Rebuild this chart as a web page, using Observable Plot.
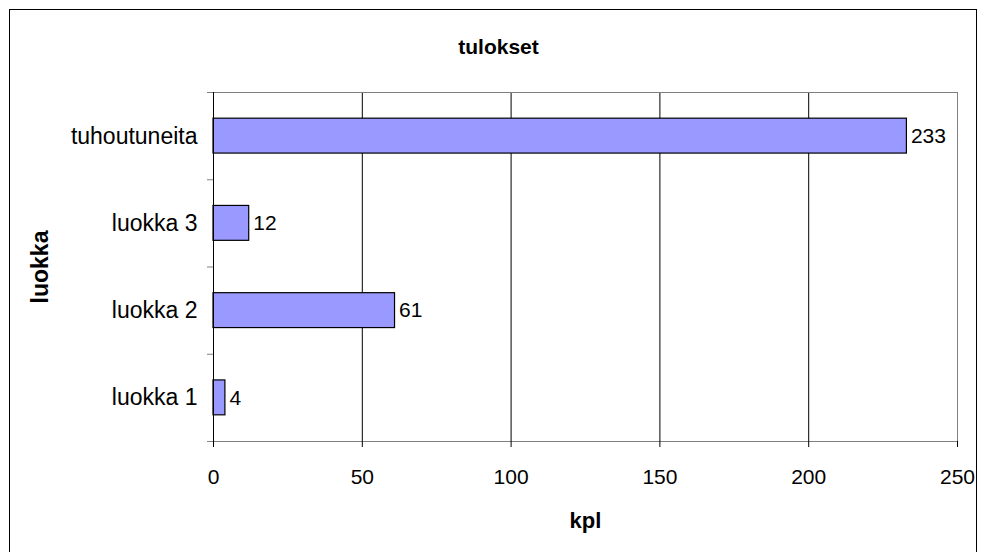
<!DOCTYPE html>
<html>
<head>
<meta charset="utf-8">
<script src="https://cdn.jsdelivr.net/npm/d3@7"></script>
<script src="https://cdn.jsdelivr.net/npm/@observablehq/plot@0.6"></script>
<style>
  html, body { margin: 0; padding: 0; background: #fff; }
  #wrap { position: relative; width: 987px; height: 552px; overflow: hidden; }
  #frame { position: absolute; left: 9px; top: 9px; width: 968px; height: 700px; border: 1px solid #000; box-sizing: border-box; pointer-events: none; }
  #chart { position: absolute; left: 0; top: 0; }
</style>
</head>
<body>
<div id="wrap"><div id="chart"></div><div id="frame"></div></div>
<script>
const categories = ["luokka 1", "luokka 2", "luokka 3", "tuhoutuneita"];
const values = [4, 61, 12, 233];
const xTicks = [0, 50, 100, 150, 200, 250];
const title = "tulokset";
const xLabel = "kpl";
const yLabel = "luokka";

const data = categories.map((c, i) => ({category: c, value: values[i], idx: i}));
const boundaries = d3.range(categories.length + 1);
const centers = categories.map((c, i) => i + 0.5);
const font = "'Liberation Sans', Arial, sans-serif";
const xMax = xTicks[xTicks.length - 1];

const chart = Plot.plot({
  width: 987,
  height: 552,
  marginLeft: 213,
  marginRight: 30,
  marginTop: 92,
  marginBottom: 111,
  style: {fontFamily: font, fontSize: "21px", color: "#000", background: "transparent"},
  x: {domain: [0, xMax], axis: null},
  y: {domain: [0, categories.length], axis: null},
  marks: [
    Plot.ruleX(xTicks.slice(1, -1), {stroke: "#000", strokeWidth: 1}),
    Plot.ruleY([categories.length], {stroke: "#808080", strokeWidth: 1}),
    Plot.ruleX([xMax], {stroke: "#808080", strokeWidth: 1}),
    Plot.rectX(data, {
      x1: 0, x2: "value",
      y1: d => d.idx + 0.3, y2: d => d.idx + 0.7,
      fill: "#9999FF", stroke: "#000", strokeWidth: 1.2
    }),
    Plot.text(data, {
      x: "value", y: d => d.idx + 0.5, text: d => String(d.value),
      textAnchor: "start", dx: 4, fontSize: 21, fill: "#000"
    }),
    Plot.ruleY([0], {stroke: "#808080", strokeWidth: 1.2}),
    Plot.ruleX([0], {stroke: "#000", strokeWidth: 1}),
    Plot.axisX({
      ticks: xTicks, tickSize: 6, tickPadding: 22, label: null,
      stroke: "#000", fill: "#000", fontSize: 21
    }),
    Plot.axisY({
      ticks: boundaries, tickSize: 6, tickFormat: () => "", label: null,
      stroke: "#808080"
    }),
    Plot.axisY({
      ticks: centers, tickSize: 0, tickPadding: 16, label: null,
      tickFormat: d => categories[Math.floor(d)], fill: "#000", fontSize: 23
    }),
    Plot.text([title], {
      frameAnchor: "top", lineAnchor: "middle", dx: -87, dy: -45, text: d => d,
      fontWeight: "bold", fontSize: 21, fill: "#000"
    }),
    Plot.text([xLabel], {
      frameAnchor: "bottom", lineAnchor: "middle", dy: 79, text: d => d,
      fontWeight: "bold", fontSize: 22, fill: "#000"
    }),
    Plot.text([yLabel], {
      frameAnchor: "left", textAnchor: "middle", lineAnchor: "middle", dx: -173, rotate: -90, text: d => d,
      fontWeight: "bold", fontSize: 23, fill: "#000"
    })
  ]
});
document.getElementById("chart").appendChild(chart);
</script>
</body>
</html>
